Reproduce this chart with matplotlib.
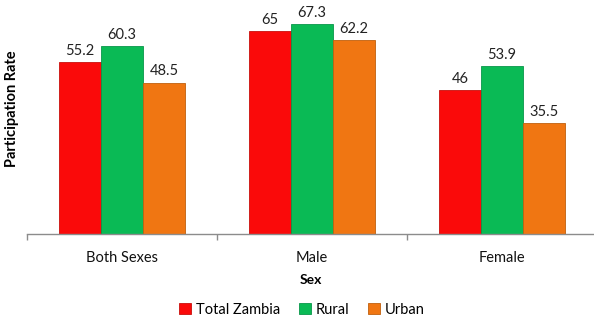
import numpy as np
import matplotlib.pyplot as plt

categories = ["Both Sexes", "Male", "Female"]
series_names = ["Total Zambia", "Rural", "Urban"]
total_zambia = [55.2, 65, 46]
rural = [60.3, 67.3, 53.9]
urban = [48.5, 62.2, 35.5]

colors = ["#FA0A0A", "#0ABA55", "#F07612"]
edges = ["#C8100C", "#08964A", "#C0600E"]

plt.rcParams["font.family"] = ["Lato", "DejaVu Sans"]

fig = plt.figure(figsize=(5.94, 3.2), dpi=100)
ax = fig.add_axes([27 / 594, 1 - 234 / 320, 567 / 594, 218 / 320])

x = np.arange(len(categories))
w = 0.222
for i, (vals, name) in enumerate(zip([total_zambia, rural, urban], series_names)):
    pos = x + (i - 1) * w
    bars = ax.bar(pos, vals, w, color=colors[i], edgecolor=edges[i],
                  linewidth=0.6, label=name, zorder=2)
    for b, v in zip(bars, vals):
        ax.text(b.get_x() + b.get_width() / 2, v + 1.3, f"{v:g}",
                ha="center", va="bottom", fontsize=10.5, color="#222222",
                clip_on=False)

ax.set_ylim(0, 69.8)
ax.set_xlim(-0.5, 2.5 - 3 / 190)
ax.set_yticks([])
for s in ["top", "right", "left"]:
    ax.spines[s].set_visible(False)
ax.spines["bottom"].set_color("#8c8c8c")
ax.spines["bottom"].set_linewidth(1)

ax.set_xticks(x)
ax.set_xticklabels(categories, fontsize=10.5, color="#111111")
ax.tick_params(axis="x", which="major", length=0, pad=12)
ax.set_xticks([-0.5, 0.5, 1.5], minor=True)
ax.tick_params(axis="x", which="minor", length=4, color="#8c8c8c", width=1)

ax.set_xlabel("Sex", fontsize=10, fontweight="bold", labelpad=7)
ax.set_ylabel("Participation Rate", fontsize=10.5, fontweight="bold")
ax.yaxis.set_label_coords(-0.014, 0.573)

ax.legend(loc="lower center", bbox_to_anchor=(0.485, -0.44), ncol=3,
          frameon=False, fontsize=10.5, handlelength=0.8, handleheight=0.8,
          handletextpad=0.35, columnspacing=1.3)

fig.savefig("out.png", dpi=100)
